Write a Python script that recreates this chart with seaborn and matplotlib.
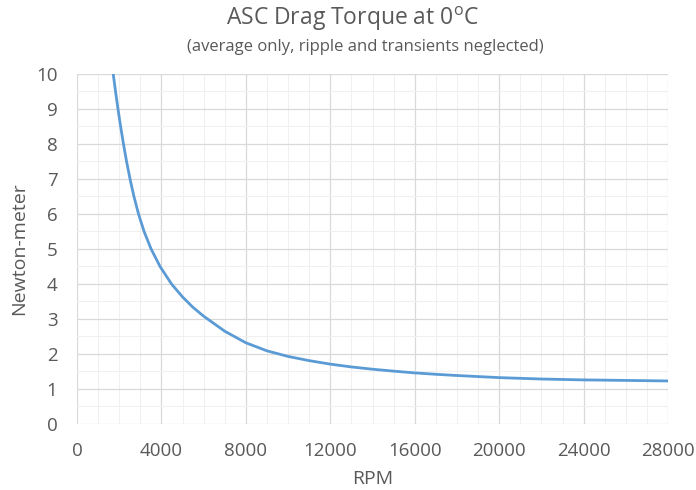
import matplotlib
matplotlib.use("Agg")
import matplotlib.pyplot as plt
import seaborn as sns
import pandas as pd
from matplotlib.ticker import MultipleLocator

rpm = [1717, 1826, 1942, 2067, 2202, 2349, 2513, 2698, 2915, 3178, 3511, 3935,
       4478, 5000, 5500, 6000, 7000, 8000, 9000, 10000, 11000, 12000, 13000,
       14000, 15000, 16000, 17000, 18000, 20000, 22000, 24000, 26000, 28000]
torque = [10.0, 9.5, 9.0, 8.5, 8.0, 7.5, 7.0, 6.5, 6.0, 5.5, 5.0, 4.5,
          4.0, 3.63, 3.33, 3.08, 2.65, 2.32, 2.09, 1.93, 1.81, 1.71, 1.63,
          1.565, 1.51, 1.46, 1.42, 1.385, 1.325, 1.285, 1.26, 1.245, 1.23]
x_ticks = [0, 4000, 8000, 12000, 16000, 20000, 24000, 28000]
y_ticks = list(range(0, 11))

sns.set_theme(style="white")
plt.rcParams['font.family'] = ['Open Sans', 'DejaVu Sans']
plt.rcParams['mathtext.fontset'] = 'custom'
plt.rcParams['mathtext.rm'] = 'Open Sans'

txt = "#595959"
fig = plt.figure(figsize=(6.96, 4.90), dpi=100)
ax = fig.add_axes([0.1106, 0.1347, 0.8494, 0.7143])

df = pd.DataFrame({"RPM": rpm, "Torque": torque})
sns.lineplot(data=df, x="RPM", y="Torque", ax=ax, color="#5B9BD5", linewidth=2.0)

ax.set_xlim(0, 28000)
ax.set_ylim(0, 10)
ax.set_xticks(x_ticks)
ax.set_yticks(y_ticks)
ax.xaxis.set_minor_locator(MultipleLocator(1000))
ax.yaxis.set_minor_locator(MultipleLocator(0.5))
ax.grid(which="major", color="#D9D9D9", linewidth=0.9)
ax.grid(which="minor", color="#F0F0F0", linewidth=0.8)
ax.set_axisbelow(True)
for s in ax.spines.values():
    s.set_visible(False)
ax.tick_params(axis="x", which="both", length=0, labelsize=13.5, colors=txt, pad=13)
ax.tick_params(axis="y", which="both", length=0, labelsize=13.5, colors=txt, pad=14)
ax.set_xlabel("RPM", fontsize=14, color=txt, labelpad=7)
ax.set_ylabel("Newton-meter", fontsize=14, color=txt, labelpad=6)

fig.text(0.506, 0.962, r"ASC Drag Torque at 0$^{\mathrm{o}}$C", ha="center", va="center",
         fontsize=16.5, color=txt)
fig.text(0.525, 0.905, "(average only, ripple and transients neglected)", ha="center",
         va="center", fontsize=12, color=txt)

fig.savefig("out.png", dpi=100)
